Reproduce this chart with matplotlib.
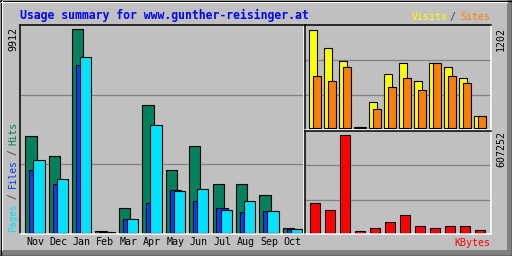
import matplotlib
matplotlib.use('Agg')
import matplotlib.pyplot as plt

# monthly summary
months = ['Nov', 'Dec', 'Jan', 'Feb', 'Mar', 'Apr', 'May', 'Jun', 'Jul', 'Aug', 'Sep', 'Oct']
hits   = [4736, 3711, 9912, 50, 1206, 6235, 3061, 4248, 2392, 2344, 1855, 244]
files  = [3061, 2378, 8188, 40, 669, 1450, 2085, 1562, 1206, 1025, 1074, 195]
pages  = [3550, 2622, 8579, 40, 635, 5259, 2002, 2134, 1123, 1514, 1074, 195]
visits = [1202, 981, 810, 12, 307, 662, 785, 576, 797, 748, 613, 135]
sites  = [626, 568, 748, 12, 224, 491, 613, 454, 797, 626, 540, 135]
kbytes = [185893, 142518, 607252, 8000, 24786, 68160, 105340, 43375, 30982, 37179, 37179, 14252]

TITLE = 'Usage summary for www.gunther-reisinger.at'

BG      = '#C0C0C0'
GRID    = '#808080'
C_HITS  = '#00805C'
C_FILES = '#0040FF'
C_PAGES = '#00E0FF'
C_VIS   = '#FFFF00'
C_SITES = '#FF8000'
C_KB    = '#FF0000'
SLASH   = '#404040'
MONO    = 'DejaVu Sans Mono'

W, H = 512, 256


def px_rect(l, t, r, b):
    return [l / W, 1 - b / H, (r - l) / W, (b - t) / H]


def panel(fig, rect, xlim, ylim):
    ax = fig.add_axes(rect)
    ax.set_facecolor(BG)
    ax.set_xlim(*xlim)
    ax.set_ylim(*ylim)
    ax.set_yticks([])
    ax.tick_params(axis='x', length=0)
    ax.set_xticks([])
    for s in ('top', 'left'):
        ax.spines[s].set_color('black')
        ax.spines[s].set_linewidth(1.1)
    for s in ('bottom', 'right'):
        ax.spines[s].set_color('white')
        ax.spines[s].set_linewidth(1.1)
    for f in (1 / 3, 2 / 3):
        ax.plot([0, 1], [f, f], transform=ax.transAxes, color=GRID, lw=0.9, zorder=0)
    return ax


fig = plt.figure(figsize=(5.12, 2.56), dpi=100, facecolor=BG)

# background / frame in pixel coordinates
bg = fig.add_axes([0, 0, 1, 1], zorder=-1)
bg.set_xlim(0, W)
bg.set_ylim(H, 0)
bg.axis('off')
bg.fill_between([0, W], 250, 256, color=GRID, lw=0)
bg.fill_between([507, W], 0, 256, color=GRID, lw=0)
bg.plot([0, W], [0.5, 0.5], color='black', lw=1)
bg.plot([0.5, 0.5], [0, H], color='black', lw=1)
bg.plot([1, 507], [1.5, 1.5], color='white', lw=0.8)
bg.plot([1.5, 1.5], [1, 250], color='white', lw=0.8)
bg.plot([0, W], [255.5, 255.5], color='black', lw=1)
bg.plot([511.5, 511.5], [0, H], color='black', lw=1)

x = list(range(len(months)))

# ---- main panel: hits / files / pages ----
slot = 23.4
s_main = max(hits) / 203.0
ax = panel(fig, px_rect(20, 25, 304, 234),
           (-5.3 / slot, (304 - 25.3) / slot),
           (-1.5 * s_main, 207.5 * s_main))
bw = 11.3 / slot
off = 4 / slot
kw = dict(align='edge', edgecolor='black', linewidth=0.8, zorder=2)
ax.bar([i for i in x], hits, bw, color=C_HITS, **kw)
ax.bar([i + off for i in x], files, bw, color=C_FILES, **kw)
ax.bar([i + 2 * off for i in x], pages, bw, color=C_PAGES, **kw)
ax.set_xticks([i + 0.415 for i in x])
ax.set_xticklabels(months, family=MONO, fontsize=7.2, color='black')
ax.tick_params(axis='x', length=0, pad=2.5)

# ---- right top: visits / sites ----
rslot = 15.0
s_vis = max(visits) / 98.0
ax2 = panel(fig, px_rect(305, 25, 491, 130),
            (-4 / rslot, (491 - 309) / rslot),
            (-2.5 * s_vis, 102.5 * s_vis))
rbw = 7.7 / rslot
ax2.bar([i for i in x], visits, rbw, color=C_VIS, **kw)
ax2.bar([i + 4 / rslot for i in x], sites, rbw, color=C_SITES, **kw)

# ---- right bottom: kbytes ----
s_kb = max(kbytes) / 98.0
ax3 = panel(fig, px_rect(305, 131, 491, 234),
            (-4 / rslot, (491 - 309) / rslot),
            (-1.5 * s_kb, 101.5 * s_kb))
ax3.bar([i + 1.3 / rslot for i in x], kbytes, 9.4 / rslot, color=C_KB, **kw)

# ---- texts ----
bg.text(20, 15, TITLE, family=MONO, fontweight='bold', fontsize=8.3,
        color='#0000FF', ha='left', va='center')

bg.text(13.5, 27, f'{max(hits)}', family=MONO, fontsize=7.2, rotation=90,
        ha='center', va='top', color='black')
bg.text(501, 27, f'{max(visits)}', family=MONO, fontsize=7.2, rotation=90,
        ha='center', va='top', color='black')
bg.text(501, 131, f'{max(kbytes)}', family=MONO, fontsize=7.2, rotation=90,
        ha='center', va='top', color='black')

lab = dict(family=MONO, fontsize=6.9, rotation=90, ha='center')
bg.text(13, 232, 'Pages', color=C_PAGES, va='bottom', **lab)
bg.text(13, 196, '/', color=SLASH, va='center', **lab)
bg.text(13, 188.5, 'Files', color=C_FILES, va='bottom', **lab)
bg.text(13, 152.5, '/', color=SLASH, va='center', **lab)
bg.text(13, 145, 'Hits', color=C_HITS, va='bottom', **lab)

top = dict(family=MONO, fontsize=7.2, va='center')
bg.text(490, 17, 'Sites', color=C_SITES, ha='right', **top)
bg.text(453, 17, '/', color=SLASH, ha='center', **top)
bg.text(448, 17, 'Visits', color=C_VIS, ha='right', **top)
bg.text(490, 243, 'KBytes', color=C_KB, ha='right', **top)

fig.savefig('out.png', dpi=100, facecolor=BG)
